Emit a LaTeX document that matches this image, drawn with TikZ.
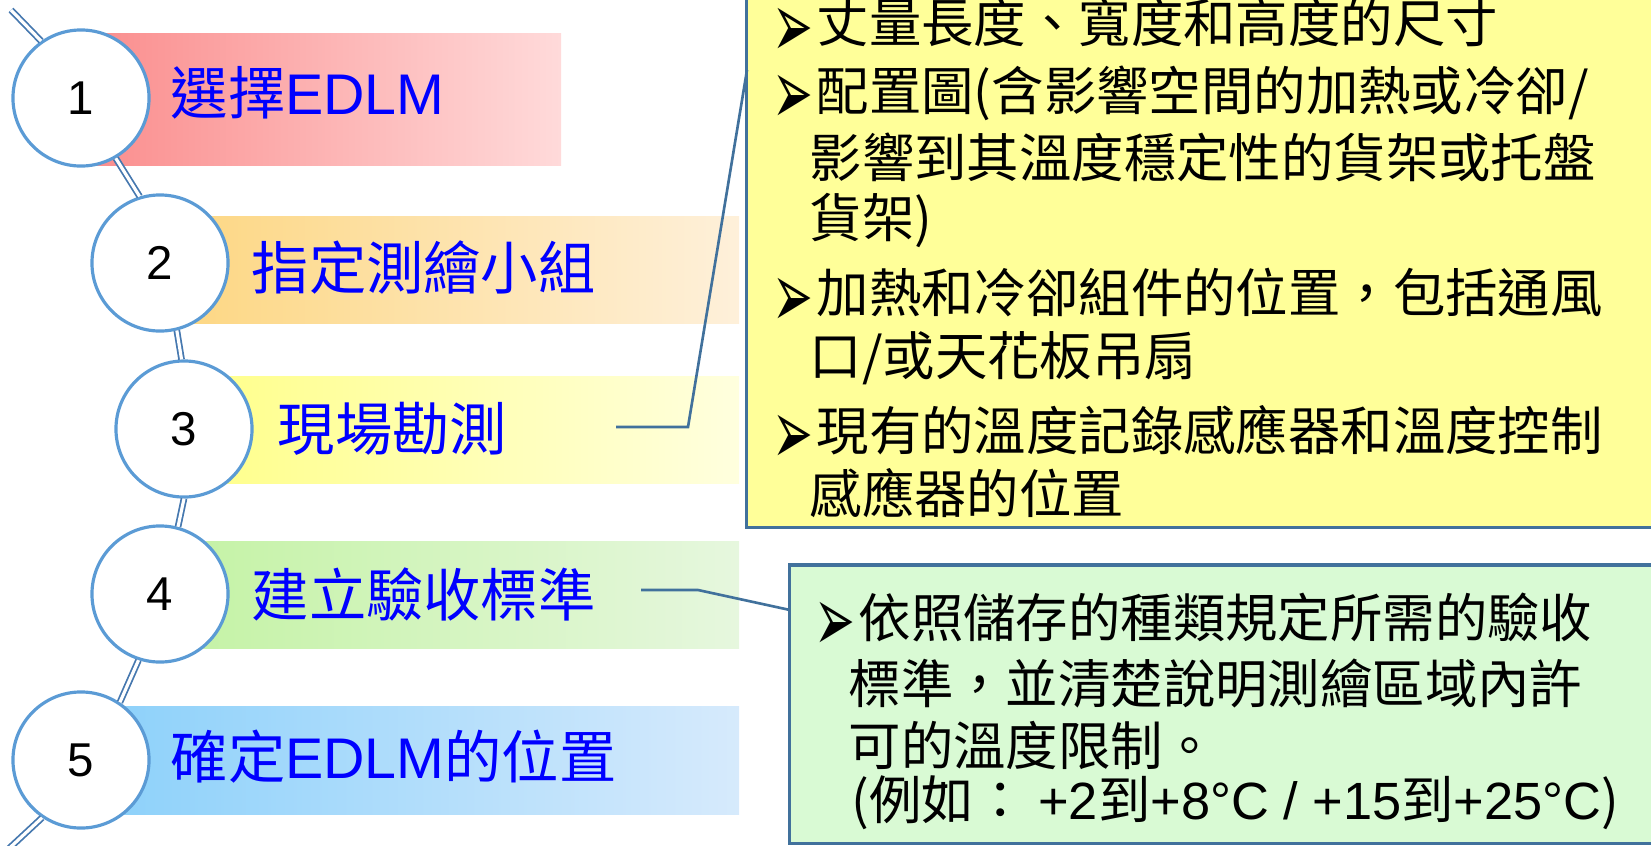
\documentclass[tikz,border=0pt]{standalone}
\usepackage{fontspec}
\usepackage{graphicx}
\setmainfont{Liberation Sans}
\newfontfamily\cjkfont{Noto Sans CJK TC}
\newfontfamily\bulletfont{DejaVu Sans}
\usepackage{tikz}
\usetikzlibrary{shapes,calc}
\definecolor{ringblue}{RGB}{91,155,213}
\definecolor{chainblue}{RGB}{70,120,175}
\definecolor{lineblue}{RGB}{65,113,156}
\definecolor{noteyellow}{RGB}{255,255,153}
\definecolor{notegreen}{RGB}{217,250,212}
\definecolor{labelblue}{RGB}{0,0,255}
\definecolor{barAl}{RGB}{250,140,140}
\definecolor{barAr}{RGB}{255,218,218}
\definecolor{barBl}{RGB}{253,214,128}
\definecolor{barBr}{RGB}{254,240,218}
\definecolor{barCl}{RGB}{255,255,136}
\definecolor{barCr}{RGB}{255,255,222}
\definecolor{barDl}{RGB}{195,242,163}
\definecolor{barDr}{RGB}{230,247,222}
\definecolor{barEl}{RGB}{138,208,250}
\definecolor{barEr}{RGB}{214,234,252}
\newcommand{\pointer}{{\bulletfont\smash{\raisebox{-0.27em}{\resizebox{0.78em}{0.94em}{➢}}}}\hspace{0.06em}}
\newcommand{\lat}[1]{{\rmfamily #1}}
\tikzstyle{ring} = [circle, minimum size=1.36cm, inner sep=0pt, draw=ringblue, line width=0.9pt, fill=white, font=\fontsize{13.5pt}{16pt}\selectfont]
\tikzstyle{chain} = [draw=chainblue, line width=0.5pt, double=white, double distance=0.9pt]
\tikzstyle{stagename} = [anchor=west, inner sep=0pt, text=labelblue, font=\fontsize{16.3pt}{19pt}\selectfont]
\tikzstyle{notetext} = [anchor=west, inner sep=0pt, font=\cjkfont\fontsize{14.9pt}{18pt}\selectfont]
\tikzstyle{notebox} = [rectangle, draw=lineblue, line width=0.9pt]
\tikzstyle{callout} = [draw=lineblue, line width=0.75pt]
\begin{document}
\begin{tikzpicture}[x=0.01cm, y=-0.01cm]
	\clip (0,0) rectangle (1651,845);
	\shade[left color=barAl, right color=barAr] (81,33) rectangle (561,165);
	\shade[left color=barBl, right color=barBr] (160,216) rectangle (739,323);
	\shade[left color=barCl, right color=barCr] (184,376) rectangle (739,483);
	\shade[left color=barDl, right color=barDr] (160,541) rectangle (739,648);
	\shade[left color=barEl, right color=barEr] (81,706) rectangle (739,814);
	\node (s1) at (81,98) [ring] {1};
	\node (s2) at (160,263) [ring] {2};
	\node (s3) at (184,429) [ring] {3};
	\node (s4) at (160,594) [ring] {4};
	\node (s5) at (81,760) [ring] {5};
	\coordinate (top) at (11,10);
	\coordinate (bottom) at (2,855);
	\draw[chain] (top) -- (s1.125);
	\draw[chain] (s1.-60) -- (s2.107);
	\draw[chain] (s2.-76) -- (s3.92);
	\draw[chain] (s3.-90) -- (s4.75);
	\draw[chain] (s4.-108) -- (s5.56);
	\draw[chain] (s5.-124) -- (bottom);
	\node (t1) at (170,93) [stagename] {{\cjkfont 選擇}EDLM};
	\node (t2) at (251,267) [stagename] {\cjkfont 指定測繪小組};
	\node (t3) at (277,429) [stagename] {\cjkfont 現場勘測};
	\node (t4) at (251,594) [stagename] {\cjkfont 建立驗收標準};
	\node (t5) at (170,757) [stagename] {{\cjkfont 確定}EDLM{\cjkfont 的位置}};
	\node (yb) at (1223.5,253.5) [notebox, fill=noteyellow, minimum width=9.53cm, minimum height=5.47cm] {};
	\node (gb) at (1245,704) [notebox, fill=notegreen, minimum width=9.1cm, minimum height=2.78cm] {};
	\coordinate (k3) at (616,427);
	\coordinate (y3) at (747,70);
	\coordinate (k4) at (641,590);
	\coordinate (g4) at (790,610);
	\draw[callout] (k3) -- ++(72,0) -- (y3);
	\draw[callout] (k4) -- ++(57,0) -- (g4);
	\node (n1) at (772,23) [notetext] {\pointer 丈量長度、寬度和高度的尺寸};
	\node (n2) at (772,93) [notetext] {\pointer 配置圖(含影響空間的加熱或冷卻/};
	\node (n3) at (809,157) [notetext] {影響到其溫度穩定性的貨架或托盤};
	\node (n4) at (809,220) [notetext] {貨架)};
	\node (n5) at (772,293) [notetext] {\pointer 加熱和冷卻組件的位置，包括通風};
	\node (n6) at (809,358) [notetext] {口/或天花板吊扇};
	\node (n7) at (772,430) [notetext] {\pointer 現有的溫度記錄感應器和溫度控制};
	\node (n8) at (809,493) [notetext] {感應器的位置};
	\node (m1) at (814,617) [notetext] {\pointer 依照儲存的種類規定所需的驗收};
	\node (m2) at (848,683) [notetext] {標準，並清楚說明測繪區域內許};
	\node (m3) at (848,745) [notetext] {可的溫度限制。};
	\node (m4) at (851,803) [notetext] {(例如：\ \lat{+2}到\lat{+8°C / +15}到\lat{+25°C})};
\end{tikzpicture}
\end{document}
